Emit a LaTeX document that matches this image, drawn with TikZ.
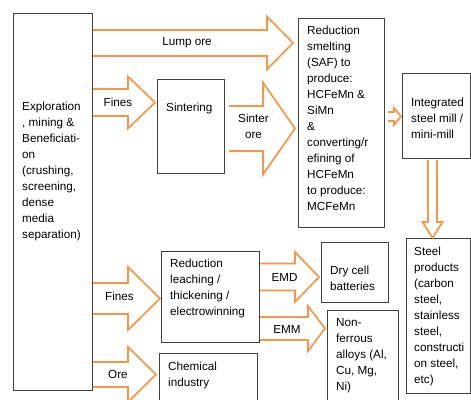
\documentclass[tikz,border=0pt]{standalone}
\usepackage{fontspec}
\setmainfont{Liberation Sans}
\usetikzlibrary{calc}
\definecolor{arrorange}{HTML}{F79646}
\definecolor{boxgray}{HTML}{404040}
\tikzset{
  box/.style={draw=boxgray, line width=1pt, rectangle, inner sep=0pt, anchor=north west},
  blockarr/.style={draw=arrorange, line width=1.7pt, line join=miter, fill=white},
  txt/.style={font=\fontsize{11.7}{16}\selectfont, inner sep=0pt, align=left, anchor=north west, text=black},
  lbl/.style={font=\fontsize{11.7}{16}\selectfont, inner sep=0pt, align=center, anchor=center, text=black}
}
% #1 src, #2 dst, #3 yc, #4 head start x, #5 body half, #6 head half, #7 start gap, #8 end gap
\newcommand\harrow[8]{%
  \draw[blockarr]
    ($(#1.east |- 0,#3)+(#7,-#5)$) -- (#4,#3-#5) -- (#4,#3-#6)
    -- ($(#2.west |- 0,#3)+(-#8,0)$)
    -- (#4,#3+#6) -- (#4,#3+#5) -- ($(#1.east |- 0,#3)+(#7,#5)$);}
\begin{document}
\begin{tikzpicture}[x=1pt,y=-1pt]
\useasboundingbox (0,0) rectangle (471,399);
\clip (0,0) rectangle (471,399);
\fill[white] (0,0) rectangle (471,399);
% boxes
\node[box, minimum width=79, minimum height=377] (expl) at (13,13) {};
\node[box, minimum width=86, minimum height=209] (smelt) at (298,18) {};
\node[box, minimum width=67, minimum height=94] (sinter) at (157,79) {};
\node[box, minimum width=68, minimum height=85] (integ) at (402,73) {};
\node[box, minimum width=64, minimum height=155] (steel) at (406,238) {};
\node[box, minimum width=98, minimum height=91] (leach) at (161,251) {};
\node[box, minimum width=98, minimum height=60] (chem) at (159,353) {};
\node[box, minimum width=67, minimum height=60] (dry) at (321,242) {};
\node[box, minimum width=71, minimum height=100] (nonfer) at (327,310) {};
% block arrows
\harrow{expl}{smelt}{43}{267}{13}{26.5}{0}{5}
\harrow{expl}{sinter}{102.5}{128}{13.5}{26}{0}{2}
\harrow{sinter}{smelt}{128.5}{263}{22.5}{46}{4}{3}
\harrow{smelt}{integ}{116.5}{394}{4.5}{8.5}{3}{1}
\harrow{expl}{leach}{298.5}{128}{15.5}{31.5}{0}{1}
\harrow{expl}{chem}{374.5}{128}{12.5}{27.5}{0}{3}
\harrow{leach}{dry}{277}{295}{13.5}{25}{0}{2}
\harrow{leach}{nonfer}{328.5}{308}{11.5}{22.5}{0}{2}
% vertical arrow
\draw[blockarr]
  ($(integ.south -| 428,0)+(0,1)$) -- (428,222) -- (422.5,222) -- (steel.north -| 432.5,0)
  -- (442.5,222) -- (437,222) -- ($(integ.south -| 437,0)+(0,1)$);
% box texts
\node[txt] (texpl) at (22,98.8) {\strut Exploration\\, mining \&\\Beneficiati-\\on\\(crushing,\\screening,\\dense\\media\\separation)};
\node[txt] (tsmelt) at (307,22.8) {\strut Reduction\\smelting\\(SAF) to\\produce:\\HCFeMn \&\\SiMn\\\&\\converting/r\\efining of\\HCFeMn\\to produce:\\MCFeMn};
\node[txt] (tsinter) at (166,99.8) {\strut Sintering};
\node[txt] (tinteg) at (411,94.8) {\strut Integrated\\steel mill /\\mini-mill};
\node[txt] (tsteel) at (414,243.8) {\strut Steel\\products\\(carbon\\steel,\\stainless\\steel,\\constructi\\on steel,\\etc)};
\node[txt] (tleach) at (170,255.8) {\strut Reduction\\leaching /\\thickening /\\electrowinning};
\node[txt] (tchem) at (168,358.8) {\strut Chemical\\industry};
\node[txt] (tdry) at (330,262.8) {\strut Dry cell\\batteries};
\node[txt] (tnonfer) at (336,314.8) {\strut Non-\\ferrous\\alloys (Al,\\Cu, Mg,\\Ni)};
% arrow labels
\node[lbl] (llump) at (187,43) {Lump ore};
\node[lbl] (lfines1) at (118,102.5) {Fines};
\node[lbl] (lsinter) at (253.5,126) {Sinter\\ore};
\node[lbl] (lfines2) at (119.5,296) {Fines};
\node[lbl] (lore) at (118,374) {Ore};
\node[lbl] (lemd) at (284.5,277) {EMD};
\node[lbl] (lemm) at (287,329) {EMM};
\end{tikzpicture}
\end{document}
